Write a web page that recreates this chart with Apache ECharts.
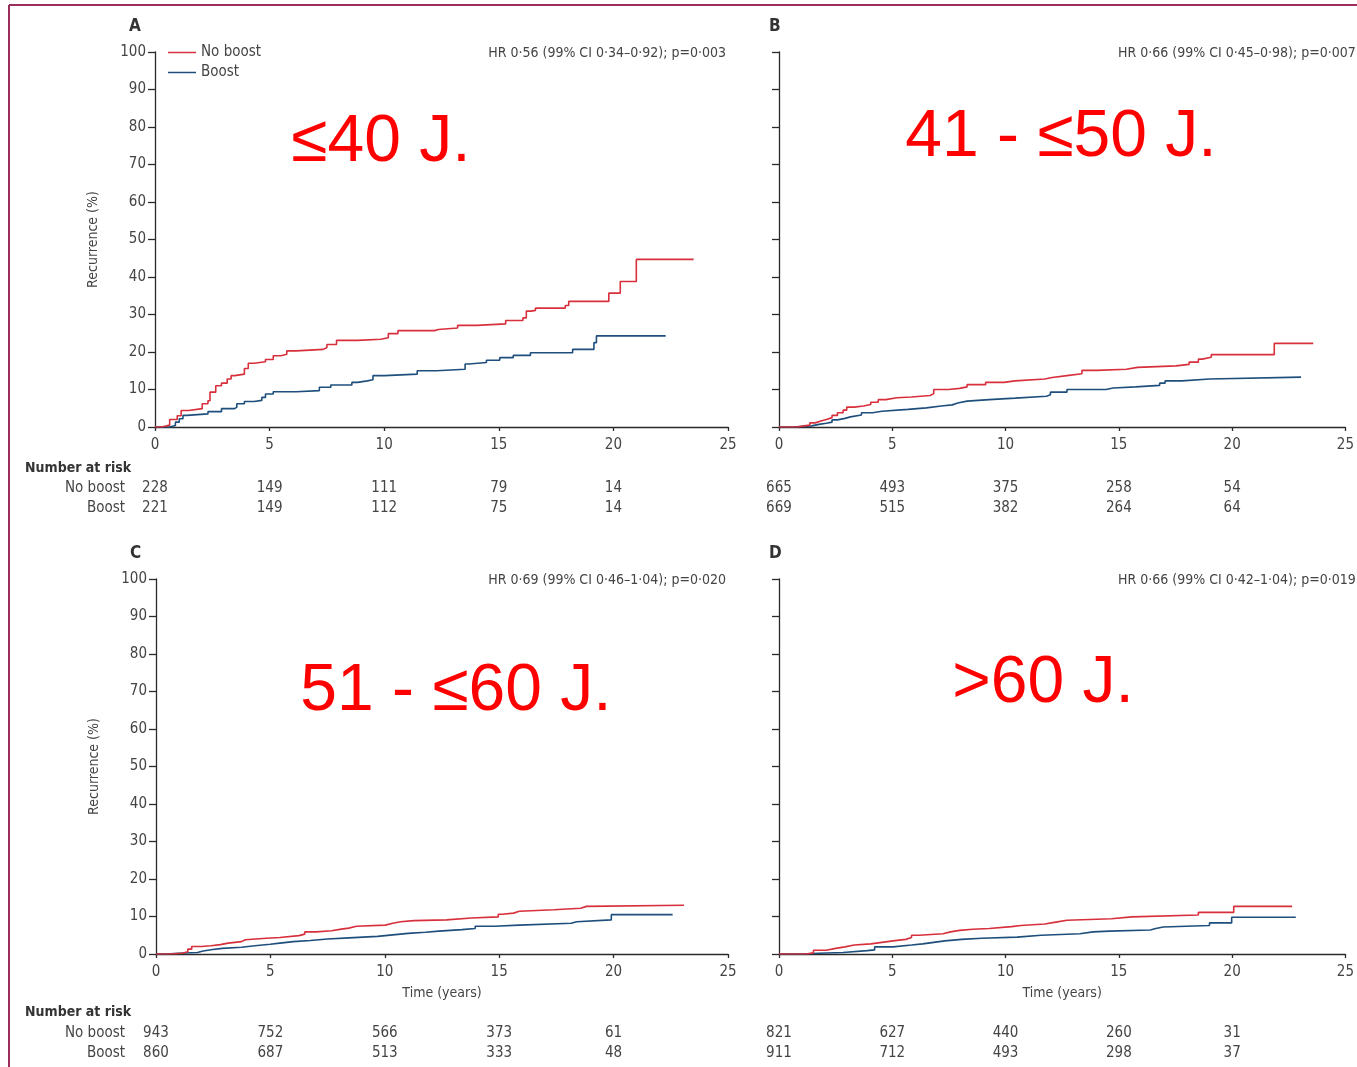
<!DOCTYPE html>
<html>
<head>
<meta charset="utf-8">
<script src="https://cdn.jsdelivr.net/npm/echarts@6/dist/echarts.min.js"></script>
<style>
html,body{margin:0;padding:0;background:#fff;}
#c{width:1357px;height:1067px;}
</style>
</head>
<body>
<div id="c"></div>
<script>
// ---- data (time in years, cumulative recurrence %) ----
const aNoBoost = [[0,0],[0.3,0.5],[0.64,2],[0.97,3],[1.14,4.4],[1.47,4.9],[2.06,6.2],[2.31,7],[2.4,9.3],[2.65,11],[2.9,11.7],[3.15,12.8],[3.32,13.7],[3.48,14.1],[3.9,15.6],[4.07,17],[4.32,17.4],[4.82,18],[5.16,19],[5.49,19.4],[5.75,20.3],[6.16,20.7],[7.34,21.2],[7.5,22],[7.92,23.1],[8.84,23.4],[9.85,23.8],[10.18,24.9],[10.6,25.7],[12.2,26],[12.36,26.4],[13.2,27.1],[14.04,27.5],[15.3,28.4],[16.05,29.1],[16.2,30.9],[16.4,31.1],[16.6,31.7],[17.9,32.4],[18.05,33.5],[19.8,35.7],[20.3,38.8],[21.0,44.7],[23.5,44.7]];
const aBoost = [[0,0],[0.64,0.4],[0.89,1.3],[1.06,2.2],[1.22,3.1],[1.39,3.5],[2.31,4.1],[2.9,4.9],[3.48,5.3],[3.57,6.2],[3.9,6.8],[4.32,7.1],[4.66,7.9],[4.82,8.8],[5.16,9.4],[6.16,9.7],[7.17,10.6],[7.67,11.2],[8.59,11.9],[8.84,12.3],[9.26,12.6],[9.51,13.7],[10.02,14.1],[11.44,15],[12.28,15.4],[13.53,16.8],[13.7,17.2],[14.46,17.8],[15.04,18.5],[15.63,19.1],[16.38,19.8],[18.22,20.7],[19.15,22.5],[19.26,24.3],[22.28,24.3]];
const bNoBoost = [[0,0],[0.62,0],[0.78,0.3],[1.11,0.5],[1.36,1.1],[1.6,1.6],[1.85,2.0],[2.09,2.5],[2.34,3.1],[2.58,3.8],[2.83,4.5],[2.99,5.3],[3.32,5.6],[3.73,6.0],[4.05,6.6],[4.38,7.3],[4.71,7.8],[5.2,8.0],[5.85,8.4],[6.67,8.9],[6.83,10.0],[7.48,10.3],[7.97,10.7],[8.3,11.3],[9.12,11.9],[9.93,12.3],[10.42,12.8],[11.73,13.2],[12.06,13.7],[12.71,14.2],[13.37,15.1],[14.02,15.4],[15.33,15.9],[15.82,16.3],[17.53,16.7],[18.1,17.3],[18.51,18.1],[18.68,18.6],[19.08,19.3],[21.86,22.3],[23.58,22.3]];
const bBoost = [[0,0],[0.62,0.3],[1.44,0.7],[1.76,1.0],[2.09,1.3],[2.34,1.9],[2.58,2.3],[2.91,2.7],[3.15,3.2],[3.64,3.8],[4.13,4.2],[4.54,4.7],[5.69,5.1],[6.5,5.6],[7.16,5.9],[7.65,6.4],[7.89,6.9],[8.3,7.3],[9.28,7.7],[10.42,8.2],[11.81,8.6],[11.98,9.3],[12.71,10.0],[14.43,10.4],[14.75,10.7],[15.74,11.1],[16.8,11.7],[17.04,12.3],[17.78,12.8],[19.0,13.3],[23.04,13.3]];
const cNoBoost = [[0,0],[0.64,0.2],[1.14,0.6],[1.39,1.3],[1.56,2.0],[1.98,2.2],[2.4,2.5],[2.81,2.9],[3.15,3.3],[3.74,3.8],[3.9,4.2],[4.82,4.4],[5.41,4.9],[6.25,5.3],[6.5,5.9],[7.0,6.2],[7.67,6.7],[8.17,6.9],[8.43,7.4],[8.76,7.7],[10.02,8.2],[10.35,8.6],[10.69,8.9],[11.27,9.1],[12.7,9.6],[13.79,9.9],[14.96,10.6],[15.13,10.9],[15.63,11.4],[15.88,11.8],[17.39,12.2],[18.56,12.7],[18.81,13.0],[23.08,13.0]];
const cBoost = [[0,0],[0.47,0.2],[0.97,0.4],[1.81,0.8],[2.06,1.2],[2.48,1.5],[2.9,1.8],[3.74,2.2],[4.32,2.6],[4.99,2.9],[5.41,3.3],[6.0,3.6],[6.75,4.0],[7.5,4.3],[8.43,4.7],[9.68,5.1],[10.35,5.5],[11.02,5.8],[11.78,6.1],[12.36,6.5],[13.37,6.8],[13.95,7.4],[14.79,7.7],[15.88,8.2],[18.14,8.6],[18.39,9.1],[19.9,10.5],[22.58,10.5]];
const dNoBoost = [[0,0],[1.19,0.3],[1.52,1.0],[2.09,1.5],[2.5,1.9],[2.91,2.4],[3.32,2.7],[4.05,3.1],[4.54,3.5],[5.03,3.9],[5.6,4.4],[5.85,5.0],[6.18,5.4],[7.24,5.9],[7.57,6.3],[7.97,6.6],[8.55,6.8],[9.28,7.3],[10.26,7.6],[10.67,8.0],[11.73,8.5],[12.22,9.0],[12.71,9.4],[14.67,9.9],[15.57,10.4],[18.51,11.1],[20.07,12.7],[22.65,12.7]];
const dBoost = [[0,0],[1.11,0.2],[1.76,0.4],[2.83,0.9],[3.89,1.1],[4.22,1.9],[5.03,2.4],[5.85,2.7],[6.34,3.1],[6.83,3.5],[7.32,3.9],[8.06,4.2],[8.95,4.5],[10.51,5.0],[11.57,5.4],[13.28,5.9],[13.86,6.1],[14.59,6.4],[16.39,6.8],[16.63,7.2],[16.96,7.6],[19.0,8.3],[19.98,9.8],[22.81,9.8]];

const riskTimes = [0, 5, 10, 15, 20];
const riskANo = [228, 149, 111, 79, 14];
const riskABoost = [221, 149, 112, 75, 14];
const riskBNo = [665, 493, 375, 258, 54];
const riskBBoost = [669, 515, 382, 264, 64];
const riskCNo = [943, 752, 566, 373, 61];
const riskCBoost = [860, 687, 513, 333, 48];
const riskDNo = [821, 627, 440, 260, 31];
const riskDBoost = [911, 712, 493, 298, 37];

const panelLetters = ['A', 'B', 'C', 'D'];
const hrTexts = [
  'HR 0·56 (99% CI 0·34–0·92); p=0·003',
  'HR 0·66 (99% CI 0·45–0·98); p=0·007',
  'HR 0·69 (99% CI 0·46–1·04); p=0·020',
  'HR 0·66 (99% CI 0·42–1·04); p=0·019'
];
const ageLabels = ['≤40 J.', '41 - ≤50 J.', '51 - ≤60 J.', '>60 J.'];
const seriesNames = ['No boost', 'Boost'];

// ---- styling ----
const RED = '#d7303c';
const BLUE = '#1e4f7c';
const FONT = '"Liberation Sans Narrow", "DejaVu Sans Condensed", "Liberation Sans", sans-serif';
const TXT = '#444';
const AX = '#2a2a2a';

const grids = [
  {left: 155, top: 52, width: 573, height: 375},
  {left: 779, top: 52, width: 573, height: 375},
  {left: 156, top: 579, width: 572, height: 375},
  {left: 779, top: 579, width: 573, height: 375}
];

const chart = echarts.init(document.getElementById('c'), null, {renderer: 'canvas'});

const xAxes = grids.map((g, i) => ({
  type: 'value', gridIndex: i, min: 0, max: 25, interval: 5,
  axisLine: {show: true, onZero: false, lineStyle: {color: AX, width: 1.3}},
  axisTick: {show: true, length: 4, lineStyle: {color: AX, width: 1.3}},
  axisLabel: {color: TXT, fontSize: 15, fontFamily: FONT, margin: 11},
  splitLine: {show: false},
  name: i >= 2 ? 'Time (years)' : '',
  nameLocation: 'middle', nameGap: 32,
  nameTextStyle: {color: TXT, fontSize: 14, fontFamily: FONT}
}));

const yAxes = grids.map((g, i) => ({
  type: 'value', gridIndex: i, min: 0, max: 100, interval: 10,
  axisLine: {show: true, lineStyle: {color: AX, width: 1.3}},
  axisTick: {show: true, length: 7, lineStyle: {color: AX, width: 1.3}},
  axisLabel: {show: i % 2 === 0, color: TXT, fontSize: 15, fontFamily: FONT, margin: 9},
  splitLine: {show: false},
  name: i % 2 === 0 ? 'Recurrence (%)' : '',
  nameLocation: 'middle', nameGap: 55, nameRotate: 90,
  nameTextStyle: {color: TXT, fontSize: 14, fontFamily: FONT}
}));

const allData = [[aNoBoost, aBoost], [bNoBoost, bBoost], [cNoBoost, cBoost], [dNoBoost, dBoost]];
const series = [];
allData.forEach((pair, i) => {
  pair.forEach((d, k) => {
    series.push({
      name: seriesNames[k], type: 'line', xAxisIndex: i, yAxisIndex: i,
      data: d, step: 'end', showSymbol: false, symbol: 'none',
      lineStyle: {color: k === 0 ? RED : BLUE, width: 1.6},
      itemStyle: {color: k === 0 ? RED : BLUE},
      animation: false, silent: true, z: k === 0 ? 3 : 2
    });
  });
});

chart.setOption({
  animation: false,
  backgroundColor: '#fff',
  grid: grids,
  xAxis: xAxes,
  yAxis: yAxes,
  legend: {
    data: [
      {name: 'No boost', icon: 'rect', itemStyle: {color: RED}},
      {name: 'Boost', icon: 'rect', itemStyle: {color: BLUE}}
    ],
    orient: 'vertical', left: 163, top: 40,
    itemWidth: 28, itemHeight: 1.5, itemGap: 5,
    textStyle: {color: TXT, fontSize: 15, fontFamily: FONT},
    selectedMode: false
  },
  series: series
});

// ---- annotations (positions derived from axes) ----
const g = [];
// frame
g.push({type: 'line', shape: {x1: 9, y1: 5, x2: 1357, y2: 5}, style: {stroke: '#9a2e5c', lineWidth: 2}});
g.push({type: 'line', shape: {x1: 9, y1: 5, x2: 9, y2: 1067}, style: {stroke: '#9a2e5c', lineWidth: 2}});

const riskSets = [[riskANo, riskABoost], [riskBNo, riskBBoost], [riskCNo, riskCBoost], [riskDNo, riskDBoost]];
grids.forEach((gr, i) => {
  const origin = chart.convertToPixel({gridIndex: i}, [0, 0]);
  const topPx = chart.convertToPixel({gridIndex: i}, [0, 100])[1];
  const rightPx = chart.convertToPixel({gridIndex: i}, [25, 0])[0];
  // panel letter
  g.push({type: 'text', left: origin[0] - (i % 2 === 0 ? 26 : 10), top: topPx - 34,
    style: {text: panelLetters[i], fill: '#333', font: '600 17px ' + FONT}});
  // HR text
  if (i % 2 === 0) {
    g.push({type: 'text', x: rightPx - 2, y: topPx + 1,
      style: {text: hrTexts[i], fill: TXT, font: '14px ' + FONT, textAlign: 'right', textVerticalAlign: 'middle'}});
  } else {
    g.push({type: 'text', x: origin[0] + 339, y: topPx + 1,
      style: {text: hrTexts[i], fill: TXT, font: '14px ' + FONT, textAlign: 'left', textVerticalAlign: 'middle'}});
  }
  // big red age label
  const labPos = [[381, 143], [1061, 138], [456, 692], [1043, 684]][i];
  g.push({type: 'text', x: labPos[0], y: labPos[1],
    style: {text: ageLabels[i], fill: '#ff0000', font: '66px "Liberation Sans", Arial, sans-serif',
      textAlign: 'center', textVerticalAlign: 'middle'}});
  // numbers at risk
  const bottomRow = i >= 2;
  const headY = origin[1] + (bottomRow ? 58 : 41);
  const rowY0 = origin[1] + (bottomRow ? 79 : 61);
  if (i % 2 === 0) {
    g.push({type: 'text', x: 25, y: headY,
      style: {text: 'Number at risk', fill: '#333', font: '600 14px ' + FONT, textAlign: 'left', textVerticalAlign: 'middle'}});
    seriesNames.forEach((nm, k) => {
      g.push({type: 'text', x: 125, y: rowY0 + k * 20,
        style: {text: nm, fill: TXT, font: '15px ' + FONT, textAlign: 'right', textVerticalAlign: 'middle'}});
    });
  }
  riskSets[i].forEach((row, k) => {
    row.forEach((v, j) => {
      const px = chart.convertToPixel({gridIndex: i}, [riskTimes[j], 0])[0];
      g.push({type: 'text', x: px, y: rowY0 + k * 20,
        style: {text: String(v), fill: TXT, font: '15px ' + FONT, textAlign: 'center', textVerticalAlign: 'middle'}});
    });
  });
});

chart.setOption({graphic: {elements: g}});
</script>
</body>
</html>
